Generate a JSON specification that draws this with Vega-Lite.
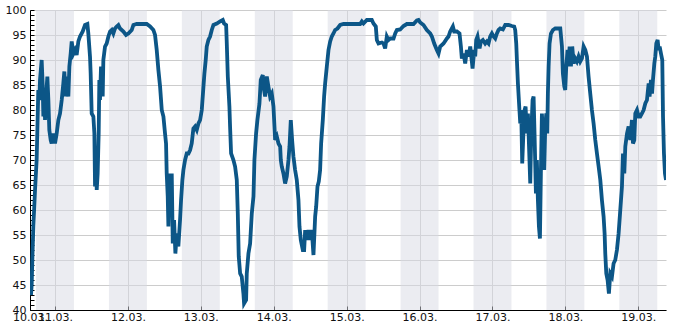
{
  "$schema": "https://vega.github.io/schema/vega-lite/v6.json",
  "width": 636,
  "height": 300,
  "autosize": {"type": "none"},
  "padding": {"left": 30, "top": 10, "right": 19, "bottom": 20},
  "config": {
    "view": {"stroke": null},
    "axis": {"labelFont": "DejaVu Sans", "labelFontSize": 11, "labelColor": "#111", "domainColor": "#000", "tickColor": "#000", "gridColor": "#cccccc", "title": null}
  },
  "datasets": {
    "bands": [
      {"s": 10.74, "e": 11.26}, {"s": 11.74, "e": 12.26}, {"s": 12.74, "e": 13.26},
      {"s": 13.74, "e": 14.26}, {"s": 14.74, "e": 15.26}, {"s": 15.74, "e": 16.26},
      {"s": 16.74, "e": 17.26}, {"s": 17.74, "e": 18.26}, {"s": 18.74, "e": 19.26}
    ],
    "series": [
      {"d": 10.657, "v": 44}, {"d": 10.671, "v": 43}, {"d": 10.680, "v": 45}, {"d": 10.689, "v": 50},
      {"d": 10.703, "v": 56.7}, {"d": 10.726, "v": 64}, {"d": 10.748, "v": 70}, {"d": 10.758, "v": 76},
      {"d": 10.771, "v": 84}, {"d": 10.785, "v": 82}, {"d": 10.794, "v": 86}, {"d": 10.817, "v": 90},
      {"d": 10.831, "v": 85}, {"d": 10.840, "v": 78.7}, {"d": 10.854, "v": 84}, {"d": 10.863, "v": 78},
      {"d": 10.877, "v": 82.7}, {"d": 10.895, "v": 86.7}, {"d": 10.909, "v": 82}, {"d": 10.922, "v": 76},
      {"d": 10.941, "v": 74}, {"d": 10.954, "v": 73.3}, {"d": 10.977, "v": 75.3}, {"d": 11.000, "v": 73.3},
      {"d": 11.023, "v": 75.3}, {"d": 11.046, "v": 78}, {"d": 11.069, "v": 79.3}, {"d": 11.092, "v": 82},
      {"d": 11.114, "v": 85.3}, {"d": 11.128, "v": 87.7}, {"d": 11.146, "v": 82.7}, {"d": 11.160, "v": 86.7},
      {"d": 11.183, "v": 82.7}, {"d": 11.197, "v": 88.7}, {"d": 11.215, "v": 91.3}, {"d": 11.229, "v": 93.7},
      {"d": 11.252, "v": 91.3}, {"d": 11.274, "v": 92}, {"d": 11.297, "v": 91}, {"d": 11.320, "v": 93.7},
      {"d": 11.343, "v": 94.7}, {"d": 11.380, "v": 95.7}, {"d": 11.412, "v": 97}, {"d": 11.444, "v": 97.2},
      {"d": 11.457, "v": 95.3}, {"d": 11.480, "v": 90.7}, {"d": 11.489, "v": 87.3}, {"d": 11.503, "v": 79.3},
      {"d": 11.526, "v": 78.7}, {"d": 11.540, "v": 75.3}, {"d": 11.549, "v": 64.7}, {"d": 11.563, "v": 70},
      {"d": 11.572, "v": 64}, {"d": 11.585, "v": 67.3}, {"d": 11.599, "v": 75.3}, {"d": 11.608, "v": 86},
      {"d": 11.617, "v": 82}, {"d": 11.631, "v": 88.7}, {"d": 11.654, "v": 82.7}, {"d": 11.663, "v": 90},
      {"d": 11.686, "v": 92.7}, {"d": 11.709, "v": 93.3}, {"d": 11.732, "v": 94.7}, {"d": 11.755, "v": 95.7},
      {"d": 11.778, "v": 96}, {"d": 11.800, "v": 95.3}, {"d": 11.823, "v": 96.3}, {"d": 11.846, "v": 96.7},
      {"d": 11.869, "v": 97}, {"d": 11.892, "v": 96.3}, {"d": 11.938, "v": 95.7}, {"d": 11.974, "v": 95},
      {"d": 12.006, "v": 95.3}, {"d": 12.052, "v": 96}, {"d": 12.075, "v": 97}, {"d": 12.121, "v": 97.2},
      {"d": 12.258, "v": 97.2}, {"d": 12.304, "v": 96.7}, {"d": 12.349, "v": 96}, {"d": 12.372, "v": 95},
      {"d": 12.395, "v": 92}, {"d": 12.418, "v": 88}, {"d": 12.441, "v": 84.7}, {"d": 12.464, "v": 80},
      {"d": 12.487, "v": 78.7}, {"d": 12.509, "v": 75.3}, {"d": 12.523, "v": 73.3}, {"d": 12.532, "v": 67.3},
      {"d": 12.546, "v": 62.7}, {"d": 12.555, "v": 56.7}, {"d": 12.569, "v": 67.3}, {"d": 12.587, "v": 62},
      {"d": 12.601, "v": 67.3}, {"d": 12.615, "v": 53.3}, {"d": 12.633, "v": 58}, {"d": 12.651, "v": 51.3},
      {"d": 12.670, "v": 55.3}, {"d": 12.692, "v": 52.7}, {"d": 12.715, "v": 58}, {"d": 12.729, "v": 62},
      {"d": 12.747, "v": 66}, {"d": 12.761, "v": 68}, {"d": 12.784, "v": 70}, {"d": 12.807, "v": 71.3},
      {"d": 12.830, "v": 71.3}, {"d": 12.853, "v": 72}, {"d": 12.875, "v": 73.3}, {"d": 12.898, "v": 76.3},
      {"d": 12.921, "v": 76.7}, {"d": 12.944, "v": 76}, {"d": 12.967, "v": 77.3}, {"d": 12.990, "v": 78},
      {"d": 13.013, "v": 80}, {"d": 13.036, "v": 84.7}, {"d": 13.049, "v": 87.3}, {"d": 13.067, "v": 90},
      {"d": 13.081, "v": 92.7}, {"d": 13.104, "v": 94}, {"d": 13.127, "v": 94.7}, {"d": 13.150, "v": 96},
      {"d": 13.173, "v": 97}, {"d": 13.219, "v": 97.3}, {"d": 13.264, "v": 97.7}, {"d": 13.301, "v": 98},
      {"d": 13.319, "v": 97.3}, {"d": 13.347, "v": 97}, {"d": 13.356, "v": 93.3}, {"d": 13.370, "v": 86.7},
      {"d": 13.392, "v": 80.7}, {"d": 13.401, "v": 76.7}, {"d": 13.415, "v": 71.3}, {"d": 13.447, "v": 70},
      {"d": 13.470, "v": 68.7}, {"d": 13.493, "v": 66}, {"d": 13.507, "v": 59.3}, {"d": 13.520, "v": 50.7},
      {"d": 13.539, "v": 47.3}, {"d": 13.561, "v": 46.7}, {"d": 13.584, "v": 43.3}, {"d": 13.593, "v": 41.3},
      {"d": 13.621, "v": 42}, {"d": 13.630, "v": 47.3}, {"d": 13.653, "v": 51.3}, {"d": 13.676, "v": 53.3},
      {"d": 13.699, "v": 59.3}, {"d": 13.722, "v": 62.7}, {"d": 13.735, "v": 70}, {"d": 13.758, "v": 75.3},
      {"d": 13.776, "v": 78}, {"d": 13.804, "v": 81.3}, {"d": 13.822, "v": 86}, {"d": 13.850, "v": 87},
      {"d": 13.859, "v": 84.7}, {"d": 13.882, "v": 82.7}, {"d": 13.905, "v": 86.7}, {"d": 13.927, "v": 84.7},
      {"d": 13.950, "v": 82.7}, {"d": 13.973, "v": 83.3}, {"d": 13.996, "v": 80.7}, {"d": 14.010, "v": 76.7},
      {"d": 14.019, "v": 74}, {"d": 14.042, "v": 74.7}, {"d": 14.065, "v": 73.3}, {"d": 14.088, "v": 72.7},
      {"d": 14.097, "v": 70}, {"d": 14.110, "v": 68.7}, {"d": 14.133, "v": 67.3}, {"d": 14.156, "v": 65.3},
      {"d": 14.179, "v": 66.7}, {"d": 14.202, "v": 70}, {"d": 14.216, "v": 72.7}, {"d": 14.234, "v": 78},
      {"d": 14.252, "v": 74}, {"d": 14.270, "v": 70.7}, {"d": 14.293, "v": 68}, {"d": 14.316, "v": 66},
      {"d": 14.339, "v": 62}, {"d": 14.353, "v": 56.7}, {"d": 14.371, "v": 54}, {"d": 14.399, "v": 52},
      {"d": 14.417, "v": 52}, {"d": 14.431, "v": 56}, {"d": 14.453, "v": 54}, {"d": 14.476, "v": 56},
      {"d": 14.499, "v": 54}, {"d": 14.522, "v": 56}, {"d": 14.545, "v": 51}, {"d": 14.568, "v": 58.7},
      {"d": 14.582, "v": 60.7}, {"d": 14.600, "v": 64.7}, {"d": 14.618, "v": 65.7}, {"d": 14.636, "v": 68},
      {"d": 14.650, "v": 73.3}, {"d": 14.673, "v": 78}, {"d": 14.691, "v": 82.7}, {"d": 14.705, "v": 85.3},
      {"d": 14.728, "v": 88.7}, {"d": 14.751, "v": 92}, {"d": 14.774, "v": 93.7}, {"d": 14.796, "v": 94.7},
      {"d": 14.819, "v": 95.3}, {"d": 14.842, "v": 96}, {"d": 14.874, "v": 96.3}, {"d": 14.911, "v": 97},
      {"d": 14.957, "v": 97.2}, {"d": 15.185, "v": 97.2}, {"d": 15.208, "v": 97.7}, {"d": 15.231, "v": 97.3},
      {"d": 15.277, "v": 98}, {"d": 15.345, "v": 98}, {"d": 15.368, "v": 97.3}, {"d": 15.400, "v": 96.7},
      {"d": 15.414, "v": 94}, {"d": 15.437, "v": 93.3}, {"d": 15.483, "v": 93.5}, {"d": 15.505, "v": 93.3},
      {"d": 15.528, "v": 92.3}, {"d": 15.551, "v": 94.7}, {"d": 15.574, "v": 94}, {"d": 15.597, "v": 94.3},
      {"d": 15.643, "v": 94.3}, {"d": 15.666, "v": 95.3}, {"d": 15.689, "v": 96}, {"d": 15.734, "v": 96.1},
      {"d": 15.780, "v": 96.8}, {"d": 15.826, "v": 97.2}, {"d": 15.917, "v": 97.2}, {"d": 15.963, "v": 97.9},
      {"d": 15.986, "v": 98}, {"d": 16.009, "v": 97.5}, {"d": 16.054, "v": 97}, {"d": 16.100, "v": 96},
      {"d": 16.146, "v": 95.3}, {"d": 16.169, "v": 94.7}, {"d": 16.201, "v": 93.3}, {"d": 16.237, "v": 92},
      {"d": 16.260, "v": 91.3}, {"d": 16.283, "v": 92.7}, {"d": 16.329, "v": 93.3}, {"d": 16.375, "v": 94.3},
      {"d": 16.397, "v": 94.7}, {"d": 16.420, "v": 95.7}, {"d": 16.457, "v": 96.7}, {"d": 16.475, "v": 95.7},
      {"d": 16.512, "v": 95.7}, {"d": 16.548, "v": 95.3}, {"d": 16.567, "v": 92.7}, {"d": 16.580, "v": 90.3},
      {"d": 16.603, "v": 91.3}, {"d": 16.626, "v": 89.3}, {"d": 16.649, "v": 92}, {"d": 16.672, "v": 90.7},
      {"d": 16.695, "v": 92.7}, {"d": 16.708, "v": 91}, {"d": 16.727, "v": 88.3}, {"d": 16.750, "v": 92},
      {"d": 16.763, "v": 90.7}, {"d": 16.777, "v": 94}, {"d": 16.795, "v": 94.7}, {"d": 16.823, "v": 92.3},
      {"d": 16.841, "v": 93.7}, {"d": 16.868, "v": 94}, {"d": 16.900, "v": 93.3}, {"d": 16.923, "v": 93.7},
      {"d": 16.946, "v": 93.3}, {"d": 16.969, "v": 94.7}, {"d": 16.992, "v": 95.3}, {"d": 17.015, "v": 94.7},
      {"d": 17.038, "v": 94.3}, {"d": 17.061, "v": 95.3}, {"d": 17.083, "v": 96}, {"d": 17.106, "v": 96.3},
      {"d": 17.143, "v": 96.1}, {"d": 17.175, "v": 97}, {"d": 17.221, "v": 97}, {"d": 17.266, "v": 96.8},
      {"d": 17.298, "v": 96.7}, {"d": 17.312, "v": 96}, {"d": 17.326, "v": 93.3}, {"d": 17.335, "v": 90},
      {"d": 17.349, "v": 85.3}, {"d": 17.367, "v": 80.7}, {"d": 17.381, "v": 77.3}, {"d": 17.394, "v": 80},
      {"d": 17.408, "v": 69.3}, {"d": 17.426, "v": 76}, {"d": 17.440, "v": 80}, {"d": 17.454, "v": 80.7},
      {"d": 17.472, "v": 75.3}, {"d": 17.486, "v": 79.3}, {"d": 17.500, "v": 73.3}, {"d": 17.518, "v": 65.3},
      {"d": 17.532, "v": 75.3}, {"d": 17.550, "v": 82}, {"d": 17.564, "v": 82.7}, {"d": 17.577, "v": 75.3},
      {"d": 17.596, "v": 63.3}, {"d": 17.609, "v": 70}, {"d": 17.623, "v": 62}, {"d": 17.637, "v": 56.7},
      {"d": 17.651, "v": 54.3}, {"d": 17.664, "v": 67.3}, {"d": 17.678, "v": 79.3}, {"d": 17.696, "v": 74},
      {"d": 17.710, "v": 68}, {"d": 17.724, "v": 76.7}, {"d": 17.738, "v": 79.3}, {"d": 17.751, "v": 75.3},
      {"d": 17.760, "v": 83.3}, {"d": 17.770, "v": 88.7}, {"d": 17.783, "v": 93.3}, {"d": 17.802, "v": 95.3},
      {"d": 17.829, "v": 96}, {"d": 17.861, "v": 96.3}, {"d": 17.930, "v": 96.3}, {"d": 17.953, "v": 92.7},
      {"d": 17.966, "v": 87.3}, {"d": 17.985, "v": 84.7}, {"d": 17.998, "v": 84}, {"d": 18.012, "v": 88.7},
      {"d": 18.030, "v": 92}, {"d": 18.044, "v": 88.7}, {"d": 18.058, "v": 92.7}, {"d": 18.076, "v": 88.7},
      {"d": 18.094, "v": 92.7}, {"d": 18.113, "v": 89.3}, {"d": 18.135, "v": 90.3}, {"d": 18.158, "v": 89.7},
      {"d": 18.181, "v": 90.7}, {"d": 18.204, "v": 89.7}, {"d": 18.227, "v": 90.3}, {"d": 18.250, "v": 92.7},
      {"d": 18.273, "v": 92}, {"d": 18.296, "v": 90.7}, {"d": 18.318, "v": 86.7}, {"d": 18.341, "v": 83.3},
      {"d": 18.364, "v": 80}, {"d": 18.387, "v": 77.3}, {"d": 18.410, "v": 74}, {"d": 18.433, "v": 71.3},
      {"d": 18.456, "v": 68.7}, {"d": 18.479, "v": 66}, {"d": 18.501, "v": 62}, {"d": 18.524, "v": 58.7},
      {"d": 18.538, "v": 55.3}, {"d": 18.547, "v": 51.3}, {"d": 18.561, "v": 47.3}, {"d": 18.579, "v": 46},
      {"d": 18.597, "v": 43.3}, {"d": 18.616, "v": 47.3}, {"d": 18.639, "v": 46.7}, {"d": 18.661, "v": 49.3},
      {"d": 18.684, "v": 50}, {"d": 18.707, "v": 52}, {"d": 18.730, "v": 55.3}, {"d": 18.753, "v": 60},
      {"d": 18.776, "v": 64.7}, {"d": 18.790, "v": 71.3}, {"d": 18.808, "v": 67.3}, {"d": 18.822, "v": 72.7},
      {"d": 18.845, "v": 75.3}, {"d": 18.867, "v": 76.7}, {"d": 18.890, "v": 74}, {"d": 18.913, "v": 78},
      {"d": 18.927, "v": 73.3}, {"d": 18.945, "v": 74}, {"d": 18.959, "v": 79.3}, {"d": 18.982, "v": 80},
      {"d": 19.005, "v": 78.7}, {"d": 19.027, "v": 78.7}, {"d": 19.050, "v": 79.3}, {"d": 19.073, "v": 80},
      {"d": 19.096, "v": 81.3}, {"d": 19.119, "v": 82}, {"d": 19.142, "v": 85.3}, {"d": 19.155, "v": 82.7},
      {"d": 19.174, "v": 86}, {"d": 19.188, "v": 83.3}, {"d": 19.201, "v": 86}, {"d": 19.220, "v": 89.3},
      {"d": 19.233, "v": 90.7}, {"d": 19.247, "v": 93.3}, {"d": 19.265, "v": 94}, {"d": 19.279, "v": 92},
      {"d": 19.293, "v": 92.7}, {"d": 19.311, "v": 91.3}, {"d": 19.329, "v": 90}, {"d": 19.339, "v": 78.7},
      {"d": 19.352, "v": 71.3}, {"d": 19.366, "v": 67.3}, {"d": 19.380, "v": 66}
    ]
  },
  "layer": [
    {
      "data": {"name": "bands"},
      "mark": {"type": "rect", "color": "#d7d9e3", "opacity": 0.5},
      "encoding": {
        "x": {"field": "s", "type": "quantitative", "scale": {"domain": [10.657, 19.38], "nice": false, "zero": false},
          "axis": {"values": [10.657, 11, 12, 13, 14, 15, 16, 17, 18, 19], "labelExpr": "format(floor(datum.value), '02d') + '.03.'", "labelFlush": false, "labelOverlap": false, "tickSize": -4, "labelPadding": 5}},
        "x2": {"field": "e"}
      }
    },
    {
      "data": {"name": "series"},
      "mark": {"type": "line", "color": "#0c5687", "strokeWidth": 3.8, "strokeJoin": "miter", "clip": true},
      "encoding": {
        "x": {"field": "d", "type": "quantitative"},
        "y": {"field": "v", "type": "quantitative", "scale": {"domain": [40, 100], "nice": false, "zero": false},
          "axis": {"values": [40,41,42,43,44,45,46,47,48,49,50,51,52,53,54,55,56,57,58,59,60,61,62,63,64,65,66,67,68,69,70,71,72,73,74,75,76,77,78,79,80,81,82,83,84,85,86,87,88,89,90,91,92,93,94,95,96,97,98,99,100],
            "labelExpr": "datum.value % 5 === 0 ? datum.label : ''", "labelOverlap": false, "tickSize": -4, "labelPadding": 8,
            "gridOpacity": {"condition": {"test": "datum.value % 5 === 0", "value": 1}, "value": 0}}}
      }
    }
  ]
}
